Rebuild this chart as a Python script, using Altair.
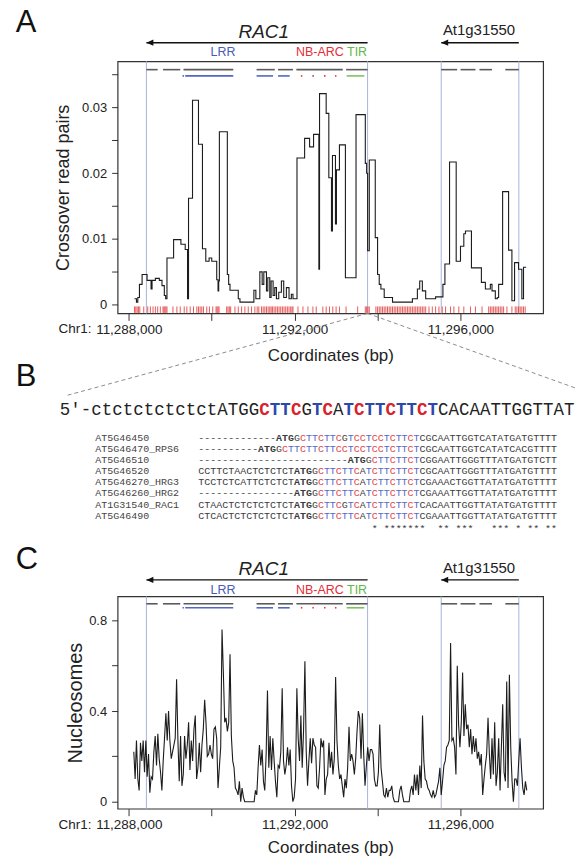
import altair as alt
import numpy as np
import pandas as pd

CHR1_ORIGIN = 11_288_000  # every position below is a bp offset from Chr1:11,288,000

# ---------------- gene models ----------------
gene_names = ["RAC1", "At1g31550"]
gene_left = [425, 7536]
gene_right = [5760, 9408]
gene_label_at = [3257, 8448]

exon_left = [425, 826, 1320, 3082, 3600, 4042, 5242, 7536, 8002, 8458, 9082]
exon_right = [696, 1241, 2520, 3521, 3960, 5160, 5760, 7920, 8362, 8760, 9408]

domain_kind = ["LRR", "LRR", "LRR", "LRR", "NB-ARC", "NB-ARC", "NB-ARC", "NB-ARC", "TIR"]
domain_left = [1296, 1361, 3082, 3600, 4150, 4428, 4709, 4973, 5256]
domain_right = [1330, 2520, 3480, 3881, 4186, 4464, 4745, 5009, 5681]
domain_labels = ["LRR", "NB-ARC", "TIR"]
domain_label_at = [2273, 4608, 5506]

# ---------------- panel A: crossover read pairs (step track) ----------------
crossover_start = [137, 185, 217, 257, 321, 441, 537, 561, 641, 737, 801, 857, 889, 921,
                   1081, 1257, 1361, 1417, 1441, 1537, 1681, 1777, 1857, 1937, 2001, 2121,
                   2153, 2169, 2185, 2377, 2409, 2441, 2641, 2681, 3017, 3065, 3161, 3217,
                   3257, 3321, 3353, 3401, 3433, 3481, 3521, 3561, 3617, 3681, 3737, 3801,
                   3865, 3921, 3961, 4057, 4241, 4361, 4457, 4585, 4601, 4761, 4825, 4889,
                   4913, 4985, 5009, 5081, 5225, 5481, 5705, 5737, 5761, 5801, 5945, 6001,
                   6041, 6081, 6161, 6361, 6841, 6961, 7017, 7081, 7161, 7401, 7577, 7625,
                   7737, 7897, 8001, 8081, 8121, 8265, 8505, 8601, 8721, 8761, 8841, 8889,
                   8921, 9017, 9161, 9241, 9305, 9401, 9481, 9521, 9585]
crossover_value = [0.0009, 0.0004, 0.0011, 0.0031, 0.0046, 0.0037, 0.0024, 0.0037, 0.0040,
                   0.0037, 0.0029, 0.0014, 0.0009, 0.0071, 0.0099, 0.0092, 0.0084, 0.0009,
                   0.0162, 0.0311, 0.0244, 0.0085, 0.0066, 0.0071, 0.0066, 0.0038, 0.0021,
                   0.0036, 0.0263, 0.0046, 0.0031, 0.0022, 0.0009, 0.0004, 0.0022, 0.0009,
                   0.0050, 0.0031, 0.0050, 0.0021, 0.0041, 0.0011, 0.0036, 0.0014, 0.0026,
                   0.0009, 0.0019, 0.0036, 0.0011, 0.0026, 0.0009, 0.0016, 0.0009, 0.0223,
                   0.0253, 0.0240, 0.0259, 0.0054, 0.0321, 0.0291, 0.0193, 0.0112, 0.0227,
                   0.0123, 0.0205, 0.0243, 0.0041, 0.0289, 0.0215, 0.0200, 0.0082, 0.0220,
                   0.0102, 0.0046, 0.0031, 0.0024, 0.0011, 0.0004, 0.0009, 0.0024, 0.0036,
                   0.0021, 0.0009, 0.0012, 0.0031, 0.0062, 0.0217, 0.0066, 0.0089, 0.0108,
                   0.0112, 0.0056, 0.0034, 0.0024, 0.0031, 0.0021, 0.0009, 0.0011, 0.0031,
                   0.0172, 0.0083, 0.0006, 0.0064, 0.0054, 0.0009, 0.0057, 0.0057]

# polymorphic sites (red rug)
snp_positions = [137, 169, 201, 233, 265, 361, 457, 521, 585, 641, 697, 761, 825, 849, 873,
                 897, 921, 1065, 1161, 1241, 1337, 1401, 1481, 1561, 1641, 1681, 1721, 1761,
                 1801, 1881, 1945, 2025, 2105, 2129, 2153, 2177, 2361, 2393, 2425, 2457, 2561,
                 2641, 2721, 2801, 2881, 2961, 3041, 3097, 3137, 3201, 3241, 3281, 3321, 3361,
                 3401, 3433, 3465, 3505, 3545, 3585, 3625, 3665, 3705, 3745, 3785, 3825, 3865,
                 3905, 3937, 3961, 4081, 4201, 4321, 4441, 4521, 4681, 4761, 4841, 4921, 5001,
                 5081, 5241, 5521, 5705, 5737, 5769, 5801, 5961, 6001, 6041, 6081, 6121, 6161,
                 6201, 6241, 6281, 6321, 6361, 6401, 6441, 6481, 6521, 6561, 6601, 6641, 6681,
                 6721, 6761, 6801, 6841, 6881, 6921, 6961, 7001, 7041, 7081, 7121, 7161, 7241,
                 7321, 7401, 7481, 7561, 7641, 7761, 7841, 7961, 8081, 8241, 8361, 8521, 8681,
                 8721, 8761, 8801, 8841, 8881, 8921, 8961, 9001, 9041, 9121, 9241, 9321, 9361,
                 9401, 9441, 9481, 9521, 9561]

# ---------------- panel C: nucleosome occupancy ----------------
nucleosome_pos = [
    121, 153, 185, 218, 250, 282, 314, 347, 379, 411, 443, 476, 508, 540, 572, 605, 637, 669, 701, 733, 766, 798, 830, 862, 895,
    927, 959, 991, 1024, 1056, 1088, 1120, 1153, 1185, 1217, 1249, 1282, 1314, 1346, 1378, 1411, 1443, 1475, 1507, 1539, 1572, 1604, 1636, 1668, 1701,
    1733, 1765, 1797, 1830, 1862, 1894, 1926, 1959, 1991, 2023, 2055, 2088, 2120, 2152, 2184, 2217, 2249, 2281, 2313, 2345, 2378, 2410, 2442, 2474, 2507,
    2539, 2571, 2603, 2636, 2668, 2700, 2732, 2765, 2797, 2829, 2861, 2894, 2926, 2958, 2990, 3023, 3055, 3087, 3119, 3151, 3184, 3216, 3248, 3280, 3313,
    3345, 3377, 3409, 3442, 3474, 3506, 3538, 3571, 3603, 3635, 3667, 3700, 3732, 3764, 3796, 3829, 3861, 3893, 3925, 3957, 3990, 4022, 4054, 4086, 4119,
    4151, 4183, 4215, 4248, 4280, 4312, 4344, 4377, 4409, 4441, 4473, 4506, 4538, 4570, 4602, 4635, 4667, 4699, 4731, 4763, 4796, 4828, 4860, 4892, 4925,
    4957, 4989, 5021, 5054, 5086, 5118, 5150, 5183, 5215, 5247, 5279, 5312, 5344, 5376, 5408, 5441, 5473, 5505, 5537, 5569, 5602, 5634, 5666, 5698, 5731,
    5763, 5795, 5827, 5860, 5892, 5924, 5956, 5989, 6021, 6053, 6085, 6118, 6150, 6182, 6214, 6247, 6279, 6311, 6343, 6375, 6408, 6440, 6472, 6504, 6537,
    6569, 6601, 6633, 6666, 6698, 6730, 6762, 6795, 6827, 6859, 6891, 6924, 6956, 6988, 7020, 7053, 7085, 7117, 7149, 7181, 7214, 7246, 7278, 7310, 7343,
    7375, 7407, 7439, 7472, 7504, 7536, 7568, 7601, 7633, 7665, 7697, 7730, 7762, 7794, 7826, 7859, 7891, 7923, 7955, 7987, 8020, 8052, 8084, 8116, 8149,
    8181, 8213, 8245, 8278, 8310, 8342, 8374, 8407, 8439, 8471, 8503, 8536, 8568, 8600, 8632, 8665, 8697, 8729, 8761, 8793, 8826, 8858, 8890, 8922, 8955,
    8987, 9019, 9051, 9084, 9116, 9148, 9180, 9213, 9245, 9277, 9309, 9342, 9374, 9406, 9438, 9471, 9503, 9535, 9567, 9599]
nucleosome_value = [
    0.22, 0.10, 0.27, 0.10, 0.05, 0.26, 0.18, 0.27, 0.13, 0.27, 0.11, 0.21, 0.04, 0.11, 0.10, 0.22, 0.29, 0.16, 0.30, 0.19, 0.13, 0.05, 0.18, 0.28, 0.39,
    0.27, 0.40, 0.27, 0.19, 0.22, 0.25, 0.28, 0.54, 0.27, 0.09, 0.29, 0.07, 0.12, 0.29, 0.19, 0.25, 0.35, 0.14, 0.27, 0.18, 0.32, 0.38, 0.10, 0.15, 0.26,
    0.13, 0.25, 0.32, 0.45, 0.35, 0.20, 0.21, 0.25, 0.21, 0.19, 0.32, 0.33, 0.28, 0.06, 0.15, 0.24, 0.76, 0.57, 0.35, 0.37, 0.31, 0.35, 0.65, 0.29, 0.18,
    0.15, 0.06, 0.05, 0.03, 0.09, 0.00, 0.06, 0.02, 0.00, 0.00, 0.00, 0.00, 0.00, 0.00, 0.00, 0.00, 0.05, 0.03, 0.15, 0.25, 0.16, 0.23, 0.09, 0.05, 0.21,
    0.49, 0.15, 0.29, 0.14, 0.28, 0.18, 0.09, 0.02, 0.16, 0.15, 0.22, 0.50, 0.18, 0.12, 0.16, 0.24, 0.16, 0.23, 0.07, 0.00, 0.02, 0.10, 0.50, 0.28, 0.18,
    0.38, 0.15, 0.31, 0.62, 0.22, 0.07, 0.18, 0.28, 0.17, 0.28, 0.25, 0.24, 0.07, 0.06, 0.15, 0.28, 0.24, 0.27, 0.03, 0.10, 0.12, 0.26, 0.15, 0.22, 0.12,
    0.19, 0.55, 0.27, 0.16, 0.10, 0.12, 0.07, 0.02, 0.10, 0.06, 0.15, 0.33, 0.18, 0.21, 0.18, 0.12, 0.19, 0.31, 0.40, 0.37, 0.19, 0.39, 0.21, 0.07, 0.16,
    0.24, 0.18, 0.23, 0.23, 0.21, 0.10, 0.07, 0.07, 0.13, 0.34, 0.15, 0.09, 0.03, 0.02, 0.06, 0.02, 0.05, 0.05, 0.07, 0.02, 0.00, 0.00, 0.00, 0.00, 0.05,
    0.07, 0.03, 0.00, 0.00, 0.00, 0.00, 0.00, 0.05, 0.07, 0.03, 0.12, 0.05, 0.12, 0.03, 0.16, 0.06, 0.38, 0.18, 0.10, 0.09, 0.06, 0.05, 0.03, 0.02, 0.05,
    0.02, 0.03, 0.06, 0.09, 0.15, 0.03, 0.09, 0.16, 0.18, 0.24, 0.25, 0.27, 0.70, 0.27, 0.28, 0.24, 0.12, 0.60, 0.34, 0.24, 0.35, 0.57, 0.29, 0.43, 0.32,
    0.34, 0.24, 0.32, 0.21, 0.29, 0.22, 0.28, 0.19, 0.22, 0.16, 0.21, 0.03, 0.10, 0.16, 0.21, 0.37, 0.21, 0.10, 0.28, 0.12, 0.35, 0.07, 0.13, 0.28, 0.05,
    0.24, 0.43, 0.13, 0.09, 0.53, 0.06, 0.56, 0.24, 0.09, 0.00, 0.10, 0.10, 0.07, 0.18, 0.28, 0.15, 0.06, 0.03, 0.09, 0.05]

# ---------------- panel B: 5' region of RAC1 and its alignment ----------------
focus_sequence = "5′-ctctctctctctATGGCTTCGTCATCTTCTTCTCACAATTGGTTAT"
alignment_names = ["AT5G46450", "AT5G46470_RPS6", "AT5G46510", "AT5G46520",
                   "AT5G46270_HRG3", "AT5G46260_HRG2", "AT1G31540_RAC1", "AT5G46490"]
alignment_seqs = [
    "-" * 13 + "ATGG" + "CTTCTTCGTCCTCCTCTTCT" + "CGCAATTGGTCATATGATGTTTT",
    "-" * 10 + "ATGG" + "CTTCTTCTTCCTCCTCCTCTTCT" + "CGCAATTGGTCATATCACGTTTT",
    "-" * 25 + "ATGG" + "CTTCTTCT" + "CGGAATTGGGTTTATGATGTCTT",
    "CCTTCTAACTCTCTCT" + "ATGG" + "CTTCTTCATCTTCTTCT" + "CGCAATTGGGTTTATGATGTTTT",
    "TCCTCTCATTCTCTCT" + "ATGG" + "CTTCTTCATCTTCTTCT" + "CGAAACTGGTTATATGATGTTTT",
    "-" * 16 + "ATGG" + "CTTCTTCATCTTCTTCT" + "CGAAATTGGTTATATGATGTTTT",
    "CTAACTCTCTCTCTCT" + "ATGG" + "CTTCGTCATCTTCTTCT" + "CACAATTGGTTATATGATGTTTT",
    "CTCACTCTCTCTCTCT" + "ATGG" + "CTTCTTCATCTTCTTCT" + "CGAAATTGGTTATATGATGTTTT",
]
alignment_consensus = " " * 29 + "* *******  ** ***   *** * ** **"
REPEAT_END = 37  # first aligned column after the CT-rich repeat

# ---------------- styling ----------------
FONT = "Liberation Sans"
MONO = "Liberation Mono"
INK = "#222222"
RED, BLUE = "#d8232a", "#2c49aa"
ALN_RED, ALN_BLUE, ALN_INK = "#e4474c", "#5869cc", "#3c3c3c"
DOMAIN_LINE = {"LRR": "#5266c2", "NB-ARC": "#e8333c", "TIR": "#7cc35f"}
DOMAIN_TEXT = {"LRR": "#4a5cb6", "NB-ARC": "#e52d36", "TIR": "#5fb847"}
W, HA, HC = 427, 253, 213

xs = alt.Scale(domain=[CHR1_ORIGIN - 270, CHR1_ORIGIN + 9994], nice=False, zero=False)
TICKS = [11288000, 11290000, 11292000, 11294000, 11296000]


def x_axis(title_pad):
    # one x-axis definition per panel, shared by every layer on the genomic scale
    return alt.Axis(values=TICKS,
                    labelExpr="datum.value % 4000 == 0 ? format(datum.value, ',') : ''",
                    title="Coordinates (bp)", tickSize=7, labelPadding=2, labelFontSize=13.5,
                    titleFontSize=17, titlePadding=title_pad, labelFlush=False,
                    labelOverlap=False, grid=False, domain=False)


def absolute(offsets):
    return [CHR1_ORIGIN + o for o in offsets]


def one_row():
    return pd.DataFrame({"k": [0]})


def gene_track(ax, h, y_arrow, y_rac, y_at, y_domlab, y_exon, y_dom):
    def gx(field):
        return alt.X(field, scale=xs, axis=ax)

    edges = pd.DataFrame({"pos": absolute(gene_left + gene_right)})
    vlines = alt.Chart(edges).mark_rule(color="#a9b2dc", strokeWidth=1).encode(
        x=gx("pos:Q"), y=alt.value(0), y2=alt.value(h))

    ex = pd.DataFrame({"pos": absolute(exon_left), "b": absolute(exon_right)})
    exons = alt.Chart(ex).mark_rule(color="#5a5a5a", strokeWidth=1.6).encode(
        x=gx("pos:Q"), x2="b:Q", y=alt.value(y_exon))

    dm = pd.DataFrame({"pos": absolute(domain_left), "b": absolute(domain_right), "kind": domain_kind})
    dm["col"] = dm["kind"].map(DOMAIN_LINE)
    doms = alt.Chart(dm).mark_rule(strokeWidth=1.6).encode(
        x=gx("pos:Q"), x2="b:Q", y=alt.value(y_dom), color=alt.Color("col:N", scale=None))

    gn = pd.DataFrame({"name": gene_names, "pos": absolute(gene_left), "b": absolute(gene_right),
                       "lab": absolute(gene_label_at)})
    shafts = alt.Chart(gn).mark_rule(color="#111111", strokeWidth=1.3).encode(
        x=gx("pos:Q"), x2="b:Q", y=alt.value(y_arrow))
    heads = alt.Chart(gn).mark_point(shape="M0,0L2,-0.9L2,0.9Z", size=49, filled=True,
                                     color="#111111", opacity=1, strokeWidth=0).encode(
        x=gx("pos:Q"), y=alt.value(y_arrow))
    rac = alt.Chart(gn.iloc[[0]]).mark_text(font=FONT, fontSize=19, fontStyle="italic",
                                            color=INK, baseline="alphabetic").encode(
        x=gx("lab:Q"), y=alt.value(y_rac), text="name:N")
    other = alt.Chart(gn.iloc[[1]]).mark_text(font=FONT, fontSize=15, color=INK,
                                              baseline="alphabetic").encode(
        x=gx("lab:Q"), y=alt.value(y_at), text="name:N")

    dl = pd.DataFrame({"name": domain_labels, "lab": absolute(domain_label_at)})
    dl["col"] = dl["name"].map(DOMAIN_TEXT)
    dlabs = alt.Chart(dl).mark_text(font=FONT, fontSize=12.5, baseline="alphabetic").encode(
        x=gx("lab:Q"), y=alt.value(y_domlab), text="name:N", color=alt.Color("col:N", scale=None))

    chr_lab = alt.Chart(pd.DataFrame({"pos": [CHR1_ORIGIN]})).mark_text(
        text="Chr1:", align="right", baseline="top", dx=-37.5, font=FONT, fontSize=13.5,
        color=INK).encode(x=gx("pos:Q"), y=alt.value(h + 9))
    return [vlines, exons, doms, shafts, heads, rac, other, dlabs, chr_lab]


def letter(ch, y):
    return alt.Chart(one_row()).mark_text(text=ch, font=FONT, fontSize=31, align="left",
                                          baseline="alphabetic", color="#111111").encode(
        x=alt.value(-102.3), y=alt.value(y))


def anchor(top, bottom):
    return alt.Chart(one_row()).mark_rule(strokeOpacity=0, strokeWidth=0.01).encode(
        x=alt.value(-117.3), x2=alt.value(-117.3), y=alt.value(top), y2=alt.value(bottom))


# ---------------- panel A ----------------
AX_A = x_axis(12)
cross = pd.DataFrame({"pos": absolute(crossover_start), "val": crossover_value})
ya = alt.Scale(domain=[-0.00132, 0.03702], nice=False, zero=False)
step = alt.Chart(cross).mark_line(interpolate="step-after", color="#1c1c1c", strokeWidth=1.1).encode(
    x=alt.X("pos:Q", scale=xs, axis=AX_A),
    y=alt.Y("val:Q", scale=ya, axis=alt.Axis(
        values=[0, 0.005, 0.01, 0.015, 0.02, 0.025, 0.03, 0.035],
        labelExpr="round(datum.value * 1000) % 10 == 0 ? (datum.value == 0 ? '0' : format(datum.value, '.2f')) : ''",
        title="Crossover read pairs", tickSize=6, labelPadding=5, labelFontSize=13,
        titleFontSize=18, titlePadding=9, grid=False, domain=False)))

rug = alt.Chart(pd.DataFrame({"pos": absolute(snp_positions)})).mark_rule(
    color="#e63c3c", strokeWidth=1, opacity=0.85).encode(
    x=alt.X("pos:Q", scale=xs, axis=AX_A), y=alt.value(HA - 7), y2=alt.value(HA - 0.5))

tss = pd.DataFrame({"pos": absolute([gene_right[0]])})
conn_left = alt.Chart(tss).mark_rule(color="#8c8c8c", strokeDash=[4, 3], strokeWidth=1).encode(
    x=alt.X("pos:Q", scale=xs, axis=AX_A), y=alt.value(HA), x2=alt.value(-52.3), y2=alt.value(335.7))
conn_right = alt.Chart(tss).mark_rule(color="#8c8c8c", strokeDash=[4, 3], strokeWidth=1).encode(
    x=alt.X("pos:Q", scale=xs, axis=AX_A), y=alt.value(HA), x2=alt.value(461.7), y2=alt.value(328.7))

core_a = alt.layer(
    *gene_track(AX_A, HA, -18.6, -23.3, -26.8, -5, 8.4, 14.7),
    rug, step, conn_left, conn_right,
    letter("A", -29.3), letter("B", 325.7), anchor(-59.3, 480))

# big sequence, one glyph per character on a character-index scale
rep_a = focus_sequence.index("ATG") + 4
rep_b = focus_sequence.index("CACAATT")
seq = pd.DataFrame({"i": range(len(focus_sequence)), "ch": list(focus_sequence)})
in_rep = (seq["i"] >= rep_a) & (seq["i"] < rep_b)
seq["col"] = np.where(in_rep & (seq["ch"] == "C"), RED,
                      np.where(in_rep & (seq["ch"] == "T"), BLUE, INK))
seq["bold"] = in_rep & seq["ch"].isin(["C", "T"])
n_seq = len(focus_sequence)
seq_x = alt.Scale(domain=[0, n_seq], range=[-58, -58 + n_seq * 10.54], nice=False, zero=False)


def seq_layer(df, weight):
    return alt.Chart(df).mark_text(font=MONO, fontSize=17.5, fontWeight=weight, align="left",
                                   baseline="alphabetic").encode(
        x=alt.X("i:Q", scale=seq_x, axis=None), y=alt.value(354.7), text="ch:N",
        color=alt.Color("col:N", scale=None))


seq_norm = seq_layer(seq[~seq["bold"]], "normal")
seq_bold = seq_layer(seq[seq["bold"]], "bold")

# alignment block
recs = []
for r, s in enumerate(alignment_seqs):
    atg = s.index("ATG")
    for c, ch in enumerate(s):
        rep = atg + 4 <= c < REPEAT_END
        col = ALN_RED if (rep and ch == "C") else ALN_BLUE if (rep and ch == "T") else ALN_INK
        recs.append({"r": r, "c": c, "ch": ch, "col": col, "bold": atg <= c < atg + 3})
aln = pd.DataFrame(recs)
n_col = len(alignment_seqs[0])
aln_x = alt.Scale(domain=[0, n_col], range=[81, 81 + n_col * 6.0], nice=False, zero=False)
aln_y = alt.Scale(domain=[0, 7], range=[380.7, 459.1], nice=False, zero=False)


def aln_layer(df, weight):
    return alt.Chart(df).mark_text(font=MONO, fontSize=10, fontWeight=weight, align="left",
                                   baseline="alphabetic").encode(
        x=alt.X("c:Q", scale=aln_x, axis=None), y=alt.Y("r:Q", scale=aln_y, axis=None),
        text="ch:N", color=alt.Color("col:N", scale=None))


aln_norm = aln_layer(aln[~aln["bold"]], "normal")
aln_bold = aln_layer(aln[aln["bold"]], "bold")
aln_names = alt.Chart(pd.DataFrame({"name": alignment_names, "r": range(len(alignment_names))})).mark_text(
    font=MONO, fontSize=10, align="left", baseline="alphabetic", color="#444444").encode(
    x=alt.value(-22.3), y=alt.Y("r:Q", scale=aln_y, axis=None), text="name:N")
stars = pd.DataFrame({"c": [i for i, ch in enumerate(alignment_consensus) if ch == "*"]})
stars["ch"] = "*"
aln_stars = alt.Chart(stars).mark_text(font=MONO, fontSize=10, align="left",
                                       baseline="alphabetic", color=ALN_INK).encode(
    x=alt.X("c:Q", scale=aln_x, axis=None), y=alt.value(472), text="ch:N")

panel_a = alt.layer(core_a, seq_norm, seq_bold, aln_norm, aln_bold, aln_names, aln_stars).resolve_scale(
    x="independent", y="independent").properties(width=W, height=HA)

# ---------------- panel C ----------------
AX_C = x_axis(8)
nuc = pd.DataFrame({"pos": absolute(nucleosome_pos), "val": nucleosome_value})
yc = alt.Scale(domain=[-0.0308, 0.9055], nice=False, zero=False)
nuc_line = alt.Chart(nuc).mark_line(color="#1c1c1c", strokeWidth=1.1).encode(
    x=alt.X("pos:Q", scale=xs, axis=AX_C),
    y=alt.Y("val:Q", scale=yc, axis=alt.Axis(
        values=[0, 0.2, 0.4, 0.6, 0.8],
        labelExpr="round(datum.value * 10) % 4 == 0 ? format(datum.value, '~g') : ''",
        title="Nucleosomes", tickSize=6, labelPadding=5, labelFontSize=13,
        titleFontSize=20, titlePadding=3, grid=False, domain=False)))

panel_c = alt.layer(
    *gene_track(AX_C, HC, -16.6, -21, -23.7, -2.6, 7.4, 11.4),
    nuc_line, letter("C", -27.6), anchor(-53, HC)).properties(width=W, height=HC)

chart = alt.vconcat(panel_a, panel_c, spacing=2).properties(
    padding=0, background="white"
).configure_view(stroke="#333333", strokeWidth=1.2).configure_axis(
    labelFont=FONT, titleFont=FONT, labelColor=INK, titleColor=INK, tickColor="#333333",
    tickWidth=1, titleFontWeight="normal", grid=False, domain=False)

chart.save("out.html", embed_options={"renderer": "svg", "actions": False})
